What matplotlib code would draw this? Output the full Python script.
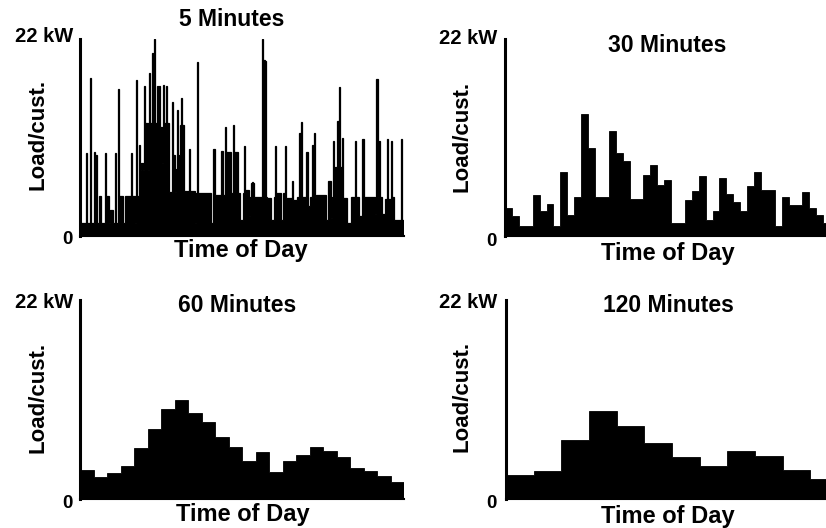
import matplotlib
matplotlib.use('Agg')
import matplotlib.pyplot as plt
import numpy as np

W, H = 826, 528

# 5-minute demand, kW per customer, one row = 2 hours (24 x 5 min)
load_5min = [
    1.4, 1.4, 1.4, 1.4, 1.4, 9.3, 1.4, 1.4, 1.4, 17.6, 1.4, 1.4, 9.4, 4.5, 9.0, 1.4, 1.4, 4.5, 4.5, 1.4, 1.4, 1.4, 9.3, 4.5,
    4.5, 4.5, 1.4, 2.9, 2.9, 1.4, 1.4, 9.3, 1.4, 1.4, 16.4, 4.5, 4.5, 4.5, 1.4, 1.4, 4.5, 4.5, 4.5, 4.5, 4.5, 9.3, 4.5, 4.5,
    4.5, 1.4, 17.4, 4.5, 10.2, 7.4, 8.1, 8.1, 7.4, 16.7, 12.6, 12.6, 7.4, 18.2, 12.6, 12.6, 20.4, 12.6, 22.0, 12.6, 16.8, 12.6, 16.8, 12.2,
    12.2, 8.1, 16.9, 12.6, 16.8, 12.6, 12.6, 4.9, 4.9, 4.9, 15.0, 9.0, 4.9, 7.5, 14.1, 7.5, 9.0, 12.4, 15.4, 12.4, 5.0, 5.0, 5.0, 5.0,
    5.0, 9.7, 5.0, 5.0, 5.0, 5.0, 1.4, 4.8, 19.4, 4.8, 4.8, 4.8, 4.8, 4.8, 4.8, 4.8, 4.8, 4.8, 4.8, 4.8, 1.4, 1.4, 9.7, 9.7,
    4.6, 4.6, 4.6, 4.6, 4.6, 9.5, 9.5, 4.6, 4.6, 12.2, 9.4, 9.4, 9.4, 9.4, 4.8, 4.8, 12.4, 9.4, 9.4, 9.4, 4.8, 4.8, 1.8, 1.8,
    1.8, 4.8, 10.0, 5.1, 5.1, 5.1, 2.2, 4.4, 5.9, 6.0, 5.9, 4.4, 4.4, 4.4, 4.4, 4.4, 4.4, 4.4, 22.0, 19.7, 19.5, 4.4, 4.2, 4.2,
    4.2, 4.2, 1.8, 1.8, 4.4, 10.1, 4.8, 4.8, 4.8, 4.8, 4.8, 1.8, 4.8, 4.8, 10.1, 4.2, 4.2, 4.2, 4.2, 4.2, 6.1, 4.0, 4.0, 4.0,
    4.0, 4.4, 4.4, 11.5, 12.7, 4.4, 4.4, 4.4, 4.4, 9.4, 9.4, 3.3, 4.4, 4.4, 10.2, 9.0, 11.5, 4.4, 4.6, 4.6, 4.6, 4.6, 4.6, 4.6,
    4.6, 4.6, 4.6, 1.8, 6.1, 6.1, 6.1, 2.0, 4.4, 10.6, 4.4, 7.7, 12.8, 12.8, 16.6, 7.7, 7.7, 10.9, 4.2, 4.2, 4.2, 1.4, 1.4, 1.4,
    1.4, 4.4, 4.4, 4.4, 10.6, 4.4, 4.4, 4.4, 2.2, 2.2, 2.2, 10.8, 4.4, 4.4, 4.4, 4.4, 4.4, 4.4, 4.4, 4.4, 4.4, 4.4, 2.5, 17.5,
    17.5, 4.4, 10.6, 4.4, 2.5, 2.5, 2.5, 4.1, 4.1, 10.8, 4.1, 4.1, 10.6, 4.4, 4.4, 1.8, 1.8, 1.8, 1.8, 1.8, 1.8, 10.8, 1.8, 1.8,
]

load_30min = [3.1, 2.2, 1.1, 1.1, 4.6, 2.8, 3.6, 1.1, 7.1, 2.4, 4.3, 13.6, 9.8, 4.3, 4.3, 11.7,
              9.3, 8.4, 4.1, 4.1, 6.8, 7.9, 5.7, 6.3, 1.5, 1.5, 4.0, 5.0, 6.7, 1.8, 2.8, 6.5,
              4.7, 3.8, 2.8, 5.6, 7.2, 5.1, 5.1, 1.1, 4.4, 3.5, 3.5, 4.9, 3.1, 2.3, 1.4, 1.9]

load_60min = [3.2, 2.4, 2.9, 3.6, 5.6, 7.7, 9.9, 10.9, 9.5, 8.5, 6.9, 5.8,
              4.2, 5.2, 3.0, 4.2, 4.9, 5.8, 5.3, 4.6, 3.4, 3.1, 2.5, 1.9]

load_120min = [2.7, 3.1, 6.5, 9.7, 8.1, 6.2, 4.6, 3.7, 5.3, 4.8, 3.2, 2.2]

titles = ['5 Minutes', '30 Minutes', '60 Minutes', '120 Minutes']
series = [load_5min, load_30min, load_60min, load_120min]
assert len(load_5min) == 288 and len(load_30min) == 48

plt.rcParams['font.family'] = ['Liberation Sans', 'DejaVu Sans']
plt.rcParams['font.weight'] = 'bold'

fig = plt.figure(figsize=(W / 100, H / 100), dpi=100)


def fx(x):
    return x / W


def fy(y):
    return 1 - y / H


# axes boxes in pixels: left, top, right, bottom (right panels run past the edge)
boxes = [(80, 39, 404, 236), (505, 39, 837, 236), (80, 300, 404, 499), (506, 300, 838, 499)]
title_at = [(232, 20), (667, 45), (237, 305), (668, 306)]
xlabel_at = [(241, 251), (668, 253), (243, 515), (668, 516)]
ylabel_at = [(38, 134), (462, 136), (38, 397), (462, 396)]
top_at = [(73, 37), (497, 38), (73, 302), (497, 302)]
zero_at = [(73, 240), (497, 242), (73, 503), (497, 503)]

for i, vals in enumerate(series):
    l, t, r, b = boxes[i]
    ax = fig.add_axes([fx(l), fy(b), (r - l) / W, (b - t) / H])
    n = len(vals)
    lw = 0.9 if n > 100 else 0.6
    # one filled step outline, so no seams between neighbouring bars
    ax.stairs(vals, np.arange(n + 1), fill=True, facecolor='black',
              edgecolor='black', linewidth=lw)
    ax.set_xlim(0, n)
    ax.set_ylim(0, 22)
    ax.set_xticks([])
    ax.set_yticks([])
    for s in ['top', 'right']:
        ax.spines[s].set_visible(False)
    ax.spines['left'].set_linewidth(2.2)
    ax.spines['bottom'].set_linewidth(1.5)
    ax.patch.set_alpha(0)

    fig.text(fx(title_at[i][0]), fy(title_at[i][1]), titles[i], ha='center', va='center',
             fontsize=16.5, fontweight='bold')
    fig.text(fx(xlabel_at[i][0]), fy(xlabel_at[i][1]), 'Time of Day', ha='center', va='center',
             fontsize=17, fontweight='bold')
    fig.text(fx(ylabel_at[i][0]), fy(ylabel_at[i][1]), 'Load/cust.', ha='center', va='center',
             rotation=90, fontsize=16, fontweight='bold')
    fig.text(fx(top_at[i][0]), fy(top_at[i][1]), '22 kW', ha='right', va='center',
             fontsize=14.5, fontweight='bold')
    fig.text(fx(zero_at[i][0]), fy(zero_at[i][1]), '0', ha='right', va='center',
             fontsize=13.5, fontweight='bold')

fig.savefig('out.png', dpi=100)
